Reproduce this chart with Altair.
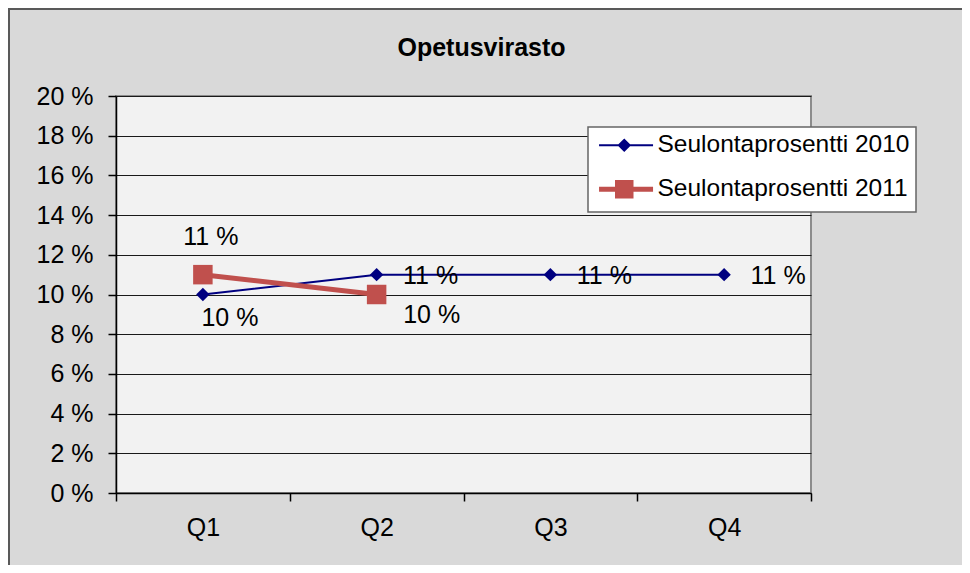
import altair as alt
import pandas as pd

# ---- data ----
quarters = ["Q1", "Q2", "Q3", "Q4"]
series_names = ["Seulontaprosentti 2010", "Seulontaprosentti 2011"]
values_2010 = [0.10, 0.11, 0.11, 0.11]
values_2011 = [0.11, 0.10, None, None]
y_ticks = [0.0, 0.02, 0.04, 0.06, 0.08, 0.10, 0.12, 0.14, 0.16, 0.18, 0.20]
series_colors = ["#000080", "#C0504D"]
series_widths = [2, 5]
title_text = "Opetusvirasto"

rows = []
for name, vals in zip(series_names, [values_2010, values_2011]):
    for q, v in zip(quarters, vals):
        if v is not None:
            rows.append({"quarter": q, "series": name, "value": v})
df = pd.DataFrame(rows)

FONT = "Liberation Sans"
S10, S11 = series_names
C10, C11 = series_colors

x_scale = alt.Scale(type="band", domain=quarters, paddingInner=0, paddingOuter=0)
y_scale = alt.Scale(domain=[0, 0.2], nice=False, zero=True)
color_scale = alt.Scale(domain=series_names, range=series_colors)
width_scale = alt.Scale(domain=series_names, range=series_widths)
# legend symbols: a line segment plus the series marker (nested outlines fill the marker)
shape_scale = alt.Scale(
    domain=series_names,
    range=[
        "M-0.8,0H5.2M1.4,0L2,-0.6L2.6,0L2,0.6ZM1.6,0L2,-0.4L2.4,0L2,0.4ZM1.8,0L2,-0.2L2.2,0L2,0.2Z",
        "M-0.8,0H5.2M1.25,-0.75H2.75V0.75H1.25ZM1.65,-0.35H2.35V0.35H1.65ZM1.95,-0.05H2.05V0.05H1.95Z",
    ],
)

x_enc = alt.X(
    "quarter:N",
    scale=x_scale,
    axis=alt.Axis(
        title=None, tickBand="extent", labelAngle=0, grid=False,
        domainColor="black", domainWidth=1.5, tickColor="black", tickWidth=1.5,
        tickSize=8, labelPadding=14, labelFontSize=25, labelFont=FONT,
        labelColor="black",
    ),
)
y_enc = alt.Y(
    "value:Q",
    scale=y_scale,
    axis=alt.Axis(
        title=None, values=y_ticks, labelExpr="round(datum.value*100) + ' %'",
        grid=True, gridColor="#1a1a1a", gridWidth=1,
        domainColor="black", domainWidth=1.5, tickColor="black", tickWidth=1.5,
        tickSize=8, labelPadding=15, labelFontSize=25, labelFont=FONT,
        labelColor="black",
    ),
)

base = alt.Chart()

line10 = base.mark_line(strokeWidth=2, color=C10).encode(x=x_enc, y=y_enc).transform_filter(
    f"datum.series === '{S10}'")
pts10 = base.mark_point(shape="diamond", filled=True, size=180, opacity=1, color=C10).encode(
    x=x_enc, y=y_enc).transform_filter(f"datum.series === '{S10}'")
line11 = base.mark_line(strokeWidth=5, color=C11).encode(x=x_enc, y=y_enc).transform_filter(
    f"datum.series === '{S11}'")
pts11 = base.mark_point(shape="square", filled=True, size=380, opacity=1, color=C11).encode(
    x=x_enc, y=y_enc).transform_filter(f"datum.series === '{S11}'")

legend = alt.Legend(
    title=None, orient="none", legendX=472, legendY=31,
    fillColor="white", strokeColor="#666666", padding=6,
    symbolSize=324, labelOffset=39, labelFontSize=24.5, labelFont=FONT,
    labelColor="black", labelLimit=500, rowPadding=15, symbolOpacity=1,
)
legend_layer = base.mark_point(filled=False, opacity=1).encode(
    x=x_enc, y=y_enc,
    color=alt.Color("series:N", scale=color_scale, legend=legend),
    shape=alt.Shape("series:N", scale=shape_scale, legend=legend),
    strokeWidth=alt.StrokeWidth("series:N", scale=width_scale, legend=legend),
).transform_filter("false")

label_base = base.transform_calculate(label="round(datum.value*100) + ' %'")


def label_layer(expr, dx, dy):
    return label_base.mark_text(
        font=FONT, fontSize=25, color="black", align="center", baseline="middle", dx=dx, dy=dy
    ).encode(x=x_enc, y=y_enc, text="label:N").transform_filter(expr)


lab1 = label_layer(f"datum.series === '{S10}' && datum.quarter === 'Q1'", 27, 23)
lab2 = label_layer(f"datum.series === '{S10}' && datum.quarter !== 'Q1'", 54, 1)
lab3 = label_layer(f"datum.series === '{S11}' && datum.quarter === 'Q1'", 8, -38)
lab4 = label_layer(f"datum.series === '{S11}' && datum.quarter === 'Q2'", 55, 20)

# outer chart-area border (left and top edges)
one = alt.Data(values=[{"k": 1}])
border_left = alt.Chart(one).mark_rule(color="#595959", strokeWidth=2).encode(
    x=alt.value(-107), y=alt.value(-88), y2=alt.value(470))
border_top = alt.Chart(one).mark_rule(color="#595959", strokeWidth=2).encode(
    x=alt.value(-108), x2=alt.value(846), y=alt.value(-87))

chart = alt.layer(
    border_left, border_top, line10, pts10, line11, pts11, legend_layer,
    lab1, lab2, lab3, lab4, data=df,
).properties(
    width=695, height=397,
    title=alt.Title(title_text, font=FONT, fontSize=25, fontWeight="bold", color="black",
                    anchor="middle", dx=18, offset=0, dy=74, baseline="alphabetic"),
    autosize=alt.AutoSizeParams(type="none"),
    padding={"left": 108, "top": 88, "right": 151, "bottom": 72},
).configure(background="#D9D9D9").configure_view(
    fill="#F2F2F2", stroke="#8c8c8c", strokeWidth=2
).configure_legend(strokeWidth=1.5)

chart.save("out.html", embed_options={"renderer": "svg", "actions": False})
